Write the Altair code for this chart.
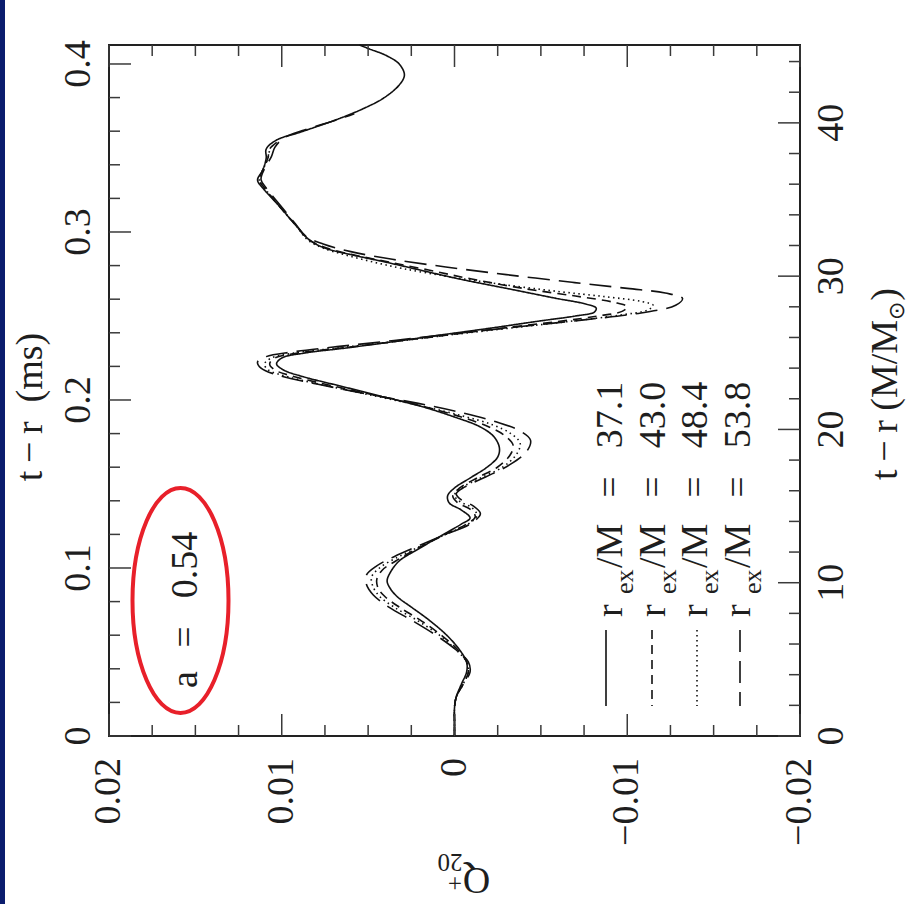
import altair as alt
import pandas as pd

# Q+20 waveform extracted at four radii, plotted against retarded time t - r (units of M)
r_ex_values = ["37.1", "43.0", "48.4", "53.8"]

t_371 = [0.00, 0.91, 1.83, 2.54, 3.39, 4.17, 4.83, 5.61, 6.52, 7.50, 8.41, 9.07, 9.59, 10.11,
         10.70, 11.42, 12.26, 13.11, 13.83, 14.22, 14.74, 15.20, 15.66, 16.18, 16.83, 17.55,
         18.20, 18.79, 19.50, 20.16, 20.81, 21.53, 22.18, 22.83, 23.42, 23.88, 24.27, 24.66,
         24.98, 25.31, 25.70, 26.16, 26.61, 27.07, 27.40, 27.66, 27.92, 28.18, 28.57, 29.16,
         29.81, 30.40, 30.92, 31.38, 31.83, 32.36, 33.33, 34.64, 35.75, 36.27, 36.92, 37.70,
         38.29, 38.88, 39.40, 40.31, 40.97, 41.62, 42.47, 43.12, 43.84, 44.42, 44.81, 45.08]
q_371 = [0.0000, 0.0000, 0.0000, -0.0001, -0.0004, -0.0007, -0.0007, -0.0003, 0.0004, 0.0014,
         0.0025, 0.0033, 0.0037, 0.0039, 0.0037, 0.0032, 0.0020, 0.0007, -0.0004, -0.0009,
         -0.0004, 0.0003, 0.0004, 0.0000, -0.0009, -0.0019, -0.0025, -0.0026, -0.0023, -0.0015,
         0.0000, 0.0020, 0.0043, 0.0066, 0.0087, 0.0099, 0.0103, 0.0100, 0.0087, 0.0063, 0.0037,
         0.0008, -0.0021, -0.0049, -0.0070, -0.0081, -0.0082, -0.0076, -0.0058, -0.0032, -0.0003,
         0.0020, 0.0040, 0.0059, 0.0075, 0.0084, 0.0092, 0.0102, 0.0111, 0.0114, 0.0111, 0.0109,
         0.0109, 0.0103, 0.0089, 0.0066, 0.0052, 0.0041, 0.0032, 0.0029, 0.0032, 0.0040, 0.0049,
         0.0055]

t_430 = [0.00, 0.91, 1.83, 2.54, 3.39, 4.17, 4.83, 5.61, 6.52, 7.50, 8.41, 9.07, 9.59, 10.20,
         10.80, 11.42, 12.26, 13.11, 13.83, 14.30, 14.80, 15.20, 15.66, 16.18, 16.83, 17.55,
         18.30, 18.95, 19.60, 20.16, 20.81, 21.53, 22.18, 22.83, 23.42, 23.88, 24.27, 24.66,
         24.98, 25.31, 25.70, 26.16, 26.61, 27.07, 27.40, 27.70, 28.00, 28.30, 28.70, 29.16,
         29.81, 30.40, 30.92, 31.38, 31.83, 32.36, 33.33, 34.64, 35.75, 36.27, 36.92, 37.70,
         38.29, 38.88]
q_430 = [0.0000, 0.0000, 0.0000, -0.0001, -0.0005, -0.0008, -0.0007, -0.0002, 0.0007, 0.0019,
         0.0032, 0.0040, 0.0044, 0.0045, 0.0042, 0.0034, 0.0021, 0.0006, -0.0007, -0.0012,
         -0.0009, -0.0002, 0.0001, -0.0003, -0.0013, -0.0025, -0.0032, -0.0034, -0.0029, -0.0020,
         -0.0004, 0.0019, 0.0044, 0.0070, 0.0092, 0.0104, 0.0107, 0.0104, 0.0091, 0.0066, 0.0037,
         0.0004, -0.0028, -0.0062, -0.0083, -0.0097, -0.0100, -0.0092, -0.0070, -0.0042, -0.0010,
         0.0015, 0.0038, 0.0058, 0.0074, 0.0084, 0.0092, 0.0102, 0.0110, 0.0113, 0.0111, 0.0108,
         0.0107, 0.0101]

t_484 = [0.00, 0.91, 1.83, 2.54, 3.39, 4.17, 4.83, 5.61, 6.52, 7.50, 8.41, 9.07, 9.70, 10.37,
         11.00, 11.60, 12.26, 13.11, 13.83, 14.40, 14.90, 15.30, 15.70, 16.18, 16.83, 17.55,
         18.40, 19.10, 19.70, 20.30, 20.90, 21.53, 22.18, 22.83, 23.42, 23.90, 24.27, 24.66,
         24.98, 25.31, 25.70, 26.16, 26.61, 27.07, 27.45, 27.80, 28.10, 28.35, 28.65, 29.00,
         29.50, 30.00, 30.50, 30.92, 31.38, 31.83, 32.36, 33.33, 34.64, 35.75, 36.27, 36.92,
         37.70, 38.29]
q_484 = [0.0000, 0.0000, 0.0000, -0.0001, -0.0005, -0.0008, -0.0007, -0.0001, 0.0008, 0.0021,
         0.0035, 0.0043, 0.0047, 0.0048, 0.0043, 0.0034, 0.0022, 0.0006, -0.0008, -0.0013,
         -0.0010, -0.0003, 0.0000, -0.0004, -0.0015, -0.0028, -0.0036, -0.0038, -0.0033, -0.0022,
         -0.0004, 0.0019, 0.0046, 0.0073, 0.0096, 0.0108, 0.0110, 0.0106, 0.0093, 0.0068, 0.0037,
         0.0003, -0.0032, -0.0068, -0.0095, -0.0112, -0.0115, -0.0108, -0.0088, -0.0060, -0.0025,
         0.0005, 0.0030, 0.0047, 0.0063, 0.0076, 0.0085, 0.0092, 0.0102, 0.0110, 0.0113, 0.0111,
         0.0108, 0.0107]

t_538 = [0.00, 0.91, 1.83, 2.54, 3.39, 4.17, 4.83, 5.61, 6.52, 7.50, 8.41, 9.20, 9.90, 10.50,
         11.10, 11.70, 12.40, 13.11, 13.83, 14.50, 15.00, 15.40, 15.80, 16.25, 16.90, 17.70,
         18.60, 19.30, 19.90, 20.50, 21.10, 21.70, 22.30, 22.95, 23.50, 24.00, 24.40, 24.75,
         25.05, 25.40, 25.80, 26.25, 26.70, 27.15, 27.60, 28.10, 28.55, 28.90, 29.20, 29.60,
         30.10, 30.60, 31.10, 31.60, 32.10, 32.60, 33.40, 34.64, 35.75, 36.30, 37.00, 37.80,
         38.40, 39.00, 39.50, 40.20, 40.60]
q_538 = [0.0000, 0.0000, 0.0000, -0.0001, -0.0005, -0.0009, -0.0008, -0.0001, 0.0010, 0.0024,
         0.0038, 0.0047, 0.0051, 0.0051, 0.0045, 0.0035, 0.0021, 0.0006, -0.0009, -0.0015,
         -0.0011, -0.0004, -0.0001, -0.0006, -0.0018, -0.0032, -0.0042, -0.0044, -0.0038, -0.0024,
         -0.0004, 0.0021, 0.0050, 0.0079, 0.0101, 0.0112, 0.0114, 0.0109, 0.0094, 0.0068, 0.0035,
         0.0000, -0.0037, -0.0075, -0.0108, -0.0128, -0.0132, -0.0122, -0.0100, -0.0068, -0.0030,
         0.0005, 0.0036, 0.0060, 0.0076, 0.0086, 0.0092, 0.0101, 0.0109, 0.0112, 0.0110, 0.0106,
         0.0104, 0.0099, 0.0088, 0.0068, 0.0058]

# axis ticks and their labels
q_major = [0.02, 0.01, 0.0, -0.01, -0.02]
q_labels = ["0.02", "0.01", "0", "\u22120.01", "\u22120.02"]
q_minor = [0.0175, 0.015, 0.0125, 0.0075, 0.005, 0.0025,
           -0.0025, -0.005, -0.0075, -0.0125, -0.015, -0.0175]
ms_major = [0.0, 0.1, 0.2, 0.3, 0.4]
ms_labels = ["0", "0.1", "0.2", "0.3", "0.4"]
ms_minor = [0.02, 0.04, 0.06, 0.08, 0.12, 0.14, 0.16, 0.18, 0.22, 0.24, 0.26, 0.28,
            0.32, 0.34, 0.36, 0.38]
m_major = [0, 10, 20, 30, 40]
m_labels = ["0", "10", "20", "30", "40"]
m_minor = [2, 4, 6, 8, 12, 14, 16, 18, 22, 24, 26, 28, 32, 34, 36, 38, 42, 44]

T_MAX_M = 45.08
T_MAX_MS = 0.4113

W, H = 691, 691
FONT = "Liberation Serif"
INK = "#1e1e1e"
TICK = "#3a3a3a"
BIG, SMALL = 22, 11
FS = 38

rows = []
for lab, ts, qs in zip(r_ex_values, [t_371, t_430, t_484, t_538], [q_371, q_430, q_484, q_538]):
    for i, (t, q) in enumerate(zip(ts, qs)):
        rows.append({"r_ex": lab, "i": i, "t": t, "q": q})
curves = pd.DataFrame(rows)

xscale = alt.Scale(domain=[0.02, -0.02], nice=False, zero=False)
mscale = alt.Scale(domain=[0, T_MAX_M], nice=False, zero=False)
msscale = alt.Scale(domain=[0, T_MAX_MS], nice=False, zero=False)
dash = alt.Scale(domain=r_ex_values, range=[[1, 0], [9, 6], [1.5, 3.5], [22, 9]])

one = pd.DataFrame({"k": [0]})


def text(s, x, y, size=FS, angle=270, align="left", baseline="alphabetic", color=INK):
    return alt.Chart(one).mark_text(
        text=s, font=FONT, fontSize=size, angle=angle, align=align,
        baseline=baseline, color=color
    ).encode(x=alt.value(x), y=alt.value(y))


lines = alt.Chart(curves).mark_line(color="#111", strokeWidth=1.6, interpolate="catmull-rom").encode(
    x=alt.X("q:Q", scale=xscale, axis=None),
    y=alt.Y("t:Q", scale=mscale, axis=None),
    order=alt.Order("i:Q"),
    detail="r_ex:N",
    strokeDash=alt.StrokeDash("r_ex:N", scale=dash, legend=None),
)


def qticks(vals, length, top):
    y0, y1 = (0, length) if top else (H, H - length)
    return alt.Chart(pd.DataFrame({"q": vals})).mark_rule(color=TICK, strokeWidth=1.5).encode(
        x=alt.X("q:Q", scale=xscale, axis=None), y=alt.value(y0), y2=alt.value(y1))


def mticks(vals, length):
    return alt.Chart(pd.DataFrame({"t": vals})).mark_rule(color=TICK, strokeWidth=1.5).encode(
        y=alt.Y("t:Q", scale=mscale, axis=None), x=alt.value(W - length), x2=alt.value(W))


# tick labels, written sideways like the rest of the figure
q_text = alt.Chart(pd.DataFrame({"q": q_major, "s": q_labels})).mark_text(
    font=FONT, fontSize=FS, angle=270, align="right", baseline="middle", color=INK
).encode(x=alt.X("q:Q", scale=xscale, axis=None), y=alt.value(H + 22), text="s:N")

m_text = alt.Chart(pd.DataFrame({"t": m_major, "s": m_labels})).mark_text(
    font=FONT, fontSize=FS, angle=270, align="center", baseline="top", color=INK
).encode(y=alt.Y("t:Q", scale=mscale, axis=None), x=alt.value(W + 13), text="s:N")

ms_text = alt.Chart(pd.DataFrame({"ms": ms_major, "s": ms_labels})).mark_text(
    font=FONT, fontSize=FS, angle=270, align="center", baseline="alphabetic", color=INK
).encode(y=alt.Y("ms:Q", scale=msscale, axis=None), x=alt.value(-19), text="s:N")

# legend: line samples and r_ex/M labels
leg_line_x = [497, 543, 588, 631]
leg_base_x = [513, 556, 598, 641]
legend = pd.DataFrame({"r_ex": r_ex_values, "lx": leg_line_x, "bx": leg_base_x})
legend["sub_x"] = legend["bx"] + 11

leg_rules = alt.Chart(legend).mark_rule(color="#111", strokeWidth=1.6).encode(
    x=alt.X("lx:Q", scale=None, axis=None), y=alt.value(585), y2=alt.value(661),
    strokeDash=alt.StrokeDash("r_ex:N", scale=dash, legend=None))


def leg_piece(s, xfield, y, size=FS, align="left"):
    return alt.Chart(legend).mark_text(text=s, font=FONT, fontSize=size, angle=270, align=align,
                                       baseline="alphabetic", color=INK).encode(
        x=alt.X(xfield + ":Q", scale=None, axis=None), y=alt.value(y))


leg_val = alt.Chart(legend).mark_text(font=FONT, fontSize=FS, angle=270, align="center",
                                      baseline="alphabetic", color=INK).encode(
    x=alt.X("bx:Q", scale=None, axis=None), y=alt.value(370), text="r_ex:N")

group_m = alt.layer(
    lines,
    qticks(q_major, BIG, False), qticks(q_minor, SMALL, False),
    qticks(q_major, BIG, True), qticks(q_minor, SMALL, True),
    mticks(m_major, BIG), mticks(m_minor, SMALL),
    q_text, m_text,
    leg_rules,
    leg_piece("r", "bx", 572), leg_piece("ex", "sub_x", 549, size=26),
    leg_piece("/M", "bx", 523), leg_piece("=", "bx", 442, align="center"),
    leg_val,
)

ms_major_rules = alt.Chart(pd.DataFrame({"ms": ms_major})).mark_rule(color=TICK, strokeWidth=1.5).encode(
    y=alt.Y("ms:Q", scale=msscale, axis=None), x=alt.value(0), x2=alt.value(BIG))
ms_minor_rules = alt.Chart(pd.DataFrame({"ms": ms_minor})).mark_rule(color=TICK, strokeWidth=1.5).encode(
    y=alt.Y("ms:Q", scale=msscale, axis=None), x=alt.value(0), x2=alt.value(SMALL))

# ellipse outline around the spin label
ELLIPSE = ("M 0 -1 C 0.2357 -1 0.4267 -0.5523 0.4267 0 C 0.4267 0.5523 0.2357 1 0 1 "
           "C -0.2357 1 -0.4267 0.5523 -0.4267 0 C -0.4267 -0.5523 -0.2357 -1 0 -1 Z")
ellipse = alt.Chart(one).mark_point(shape=ELLIPSE, size=225 ** 2, filled=False, color="#e8202a",
                                    strokeWidth=4, opacity=1).encode(
    x=alt.value(71.5), y=alt.value(555.5))

edge = alt.Chart(one).mark_rect(color="#0b1d6e").encode(
    x=alt.value(-109), x2=alt.value(-104), y=alt.value(-45), y2=alt.value(904 - 45))

group_ms = alt.layer(
    ms_major_rules, ms_minor_rules, ms_text, edge, ellipse,
    # left-hand axis title t - r (ms)
    text("t\u2009\u2212\u2009r\u2002(ms)", -67, 362, align="center"),
    text("a", 88, 643), text("=", 88, 592, align="center"), text("0.54", 88, 520, align="center"),
    # Q+20 axis label (upside down)
    text("Q", 367.5, 834, angle=180, align="center", baseline="middle"),
    text("20", 341, 816.5, size=25, angle=180, align="center", baseline="middle"),
    text("+", 346, 837.5, size=25, angle=180, align="center", baseline="middle"),
    # right-hand axis title t - r (M/M_sun)
    text("t\u2009\u2212\u2009r (M/M", 788, 435),
    text("\u2299", 788, 266, size=22, align="center", baseline="middle"),
    text(")", 788, 243, align="right"),
)

chart = alt.layer(group_ms, group_m).resolve_scale(y="independent").properties(
    width=W, height=H,
    autosize=alt.AutoSizeParams(type="none"),
    padding={"left": 109, "top": 45, "right": 109, "bottom": 168},
).configure(background="white").configure_view(
    stroke="#222", strokeWidth=2
)

chart.save("out.html", embed_options={"renderer": "svg", "actions": False})
